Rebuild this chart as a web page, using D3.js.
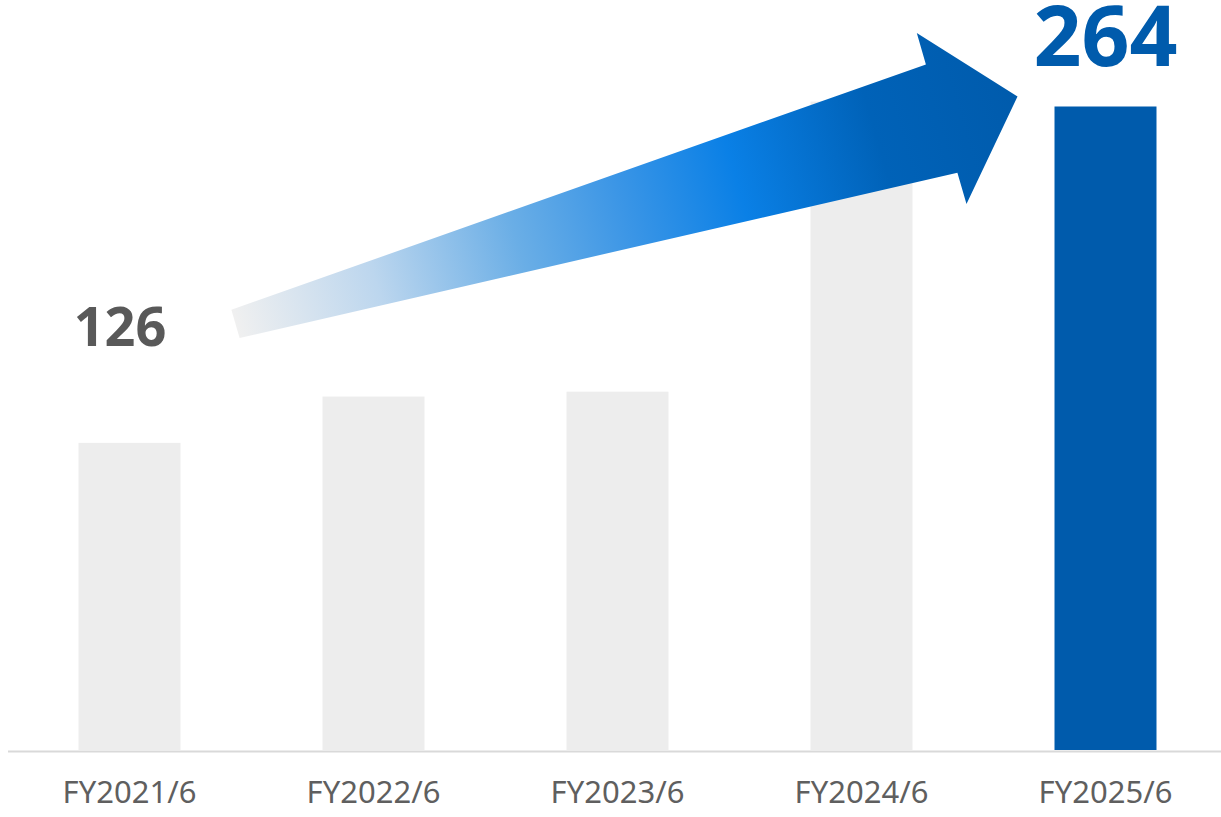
<!DOCTYPE html>
<html>
<head>
<meta charset="utf-8">
<script src="https://cdn.jsdelivr.net/npm/d3@7"></script>
<style>
  html, body { margin: 0; padding: 0; background: #ffffff; }
  svg { display: block; }
</style>
</head>
<body>
<div id="chart"></div>
<script>
// Fiscal years and values
const categories = ["FY2021/6", "FY2022/6", "FY2023/6", "FY2024/6", "FY2025/6"];
const values = [126, 145, 147, 266, 264];
const highlighted = ["FY2025/6"];

// Value labels shown above selected bars
const labelCategories = ["FY2021/6", "FY2025/6"];
const labelValues = [126, 264];

const width = 1221, height = 817;
const baseY = 750;

const svg = d3.select("#chart").append("svg")
  .attr("width", width)
  .attr("height", height);

const x = d3.scaleBand()
  .domain(categories)
  .range([7.5, 1227.5])
  .paddingInner(0.582)
  .paddingOuter(0.291);

const y = d3.scaleLinear()
  .domain([0, 300])
  .range([baseY, baseY - 300 * 2.4375]);

// Bars
svg.append("g")
  .selectAll("rect")
  .data(categories.map((c, i) => ({ c, v: values[i] })))
  .join("rect")
  .attr("x", d => x(d.c))
  .attr("y", d => y(d.v))
  .attr("width", x.bandwidth())
  .attr("height", d => y(0) - y(d.v))
  .attr("fill", d => highlighted.includes(d.c) ? "#005bac" : "#ededed");

// Category axis
const axis = svg.append("g")
  .attr("transform", `translate(0,${baseY})`)
  .call(d3.axisBottom(x).tickSize(0).tickSizeOuter(0));
axis.select(".domain")
  .attr("stroke", "#d9d9d9")
  .attr("stroke-width", 2)
  .attr("transform", "translate(0,1)");
axis.selectAll(".tick text")
  .attr("y", 53)
  .attr("dy", 0)
  .attr("fill", "#5f5f5f")
  .style("font-family", "'Noto Sans', sans-serif")
  .style("font-size", "31px");

// Growth arrow from the first labelled value to the last
const tail = [x("FY2021/6") + x.bandwidth() + 55, y(labelValues[0]) - 119];
const tip = [x("FY2025/6") - 37, y(labelValues[1]) - 10];
const dx = tip[0] - tail[0], dy = tip[1] - tail[1];
const L = Math.hypot(dx, dy);
const u = [dx / L, dy / L];
const n = [-u[1], u[0]];
const headLen = 79, headHalf = 89, shaftEnd = 56.4, shaftStart = 14.7;
const local = [
  [0, -shaftStart], [L - headLen, -shaftEnd], [L - headLen, -headHalf],
  [L, 0],
  [L - headLen, headHalf], [L - headLen, shaftEnd], [0, shaftStart]
];
const pts = local.map(([a, b]) => [tail[0] + u[0] * a + n[0] * b, tail[1] + u[1] * a + n[1] * b]);

const defs = svg.append("defs");
const grad = defs.append("linearGradient")
  .attr("id", "arrowGrad")
  .attr("gradientUnits", "userSpaceOnUse")
  .attr("x1", tail[0]).attr("y1", tail[1])
  .attr("x2", tip[0]).attr("y2", tip[1]);
[
  [0, "#f0f0f0"],
  [0.18, "#bcd6ee"],
  [0.36, "#6aaee6"],
  [0.5, "#3a95e6"],
  [0.64, "#0a80e6"],
  [0.82, "#0062b8"],
  [1, "#005bac"]
].forEach(([o, c]) => grad.append("stop").attr("offset", o).attr("stop-color", c));

svg.append("path")
  .attr("d", d3.line()(pts) + "Z")
  .attr("fill", "url(#arrowGrad)");

// Value labels
const labelStyle = {
  "FY2021/6": { dx: -9.5, dy: -97, size: 54, color: "#595959" },
  "FY2025/6": { dx: 0, dy: -41, size: 84, color: "#005bac" }
};
svg.append("g")
  .selectAll("text")
  .data(labelCategories.map((c, i) => ({ c, v: labelValues[i] })))
  .join("text")
  .attr("x", d => x(d.c) + x.bandwidth() / 2 + labelStyle[d.c].dx)
  .attr("y", d => y(d.v) + labelStyle[d.c].dy)
  .attr("text-anchor", "middle")
  .attr("fill", d => labelStyle[d.c].color)
  .style("font-family", "'Noto Sans', sans-serif")
  .style("font-weight", "bold")
  .style("font-size", d => labelStyle[d.c].size + "px")
  .text(d => d.v);
</script>
</body>
</html>
